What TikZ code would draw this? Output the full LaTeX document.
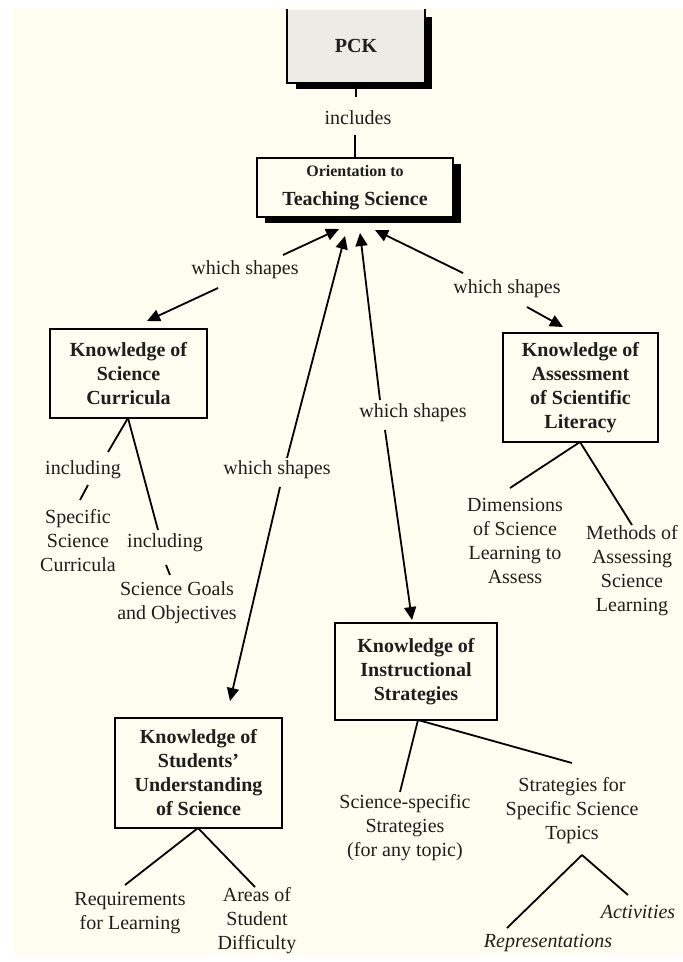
\documentclass[tikz,border=0pt]{standalone}
\usepackage{fontspec}
\setmainfont{Liberation Serif}
\usetikzlibrary{arrows.meta,shadows}
\definecolor{paper}{HTML}{FEFDF0}
\definecolor{boxgray}{HTML}{ECEBE6}
\definecolor{ink}{HTML}{1E1E1E}
\begin{document}
\begin{tikzpicture}[x=1pt,y=-1pt,line width=1.8pt,
  every node/.style={font=\fontsize{20}{24}\selectfont, align=center, inner sep=0pt, text=ink},
  box/.style={draw=black, line width=1.8pt, fill=paper, font=\fontsize{20}{24}\selectfont\bfseries},
  shadowed/.style={drop shadow={shadow xshift=8pt, shadow yshift=-6pt, opacity=1, fill=black}},
  arr/.style={-{Triangle[length=13pt,width=12pt]}},
  lbl/.style={fill=none}]
\useasboundingbox (0,0) rectangle (683,962);
\fill[white] (0,0) rectangle (683,962);
\fill[paper] (13,8) rectangle (683,955);

% PCK box (top edge cut)
\fill[black] (296,17) rectangle (432,89);
\node[fill=boxgray, minimum width=136, minimum height=72, font=\fontsize{20}{24}\selectfont\bfseries] (pck) at (356,46) {PCK};
\draw (pck.north west) -- (pck.south west) -- (pck.south east) -- (pck.north east);

\node[lbl] (inc) at (358,118) {includes};

% Orientation
\node[box, shadowed, minimum width=196, minimum height=59] (orient) at (355,187.5)
  {{\fontsize{16}{18}\selectfont\bfseries Orientation to}\\[5pt]Teaching Science};

% boxes
\node[box, minimum width=157, minimum height=89] (curr) at (128.5,373.5) {Knowledge of\\Science\\Curricula};
\node[box, minimum width=155, minimum height=109] (assess) at (580.5,387.5) {Knowledge of\\Assessment\\of Scientific\\Literacy};
\node[box, minimum width=162, minimum height=97] (instr) at (416,671.5) {Knowledge of\\Instructional\\Strategies};
\node[box, minimum width=167, minimum height=110] (stud) at (198.5,773) {Knowledge of\\Students'\\Understanding\\of Science};

% labels
\node[lbl] (ws1) at (245,270) {which shapes};
\node[lbl] (ws2) at (277,470) {which shapes};
\node[lbl] (ws3) at (413,413) {which shapes};
\node[lbl] (ws4) at (507,289) {which shapes};
\node[lbl] (incl1) at (83,470) {including};
\node[lbl] (incl2) at (165,543) {including};
\node[lbl] (spec) at (78,541) {Specific\\Science\\Curricula};
\node[lbl] (goals) at (177,603) {Science Goals\\and Objectives};
\node[lbl] (dim) at (515,541) {Dimensions\\of Science\\Learning to\\Assess};
\node[lbl] (meth) at (632,571) {Methods of\\Assessing\\Science\\Learning};
\node[lbl] (req) at (130,913) {Requirements\\for Learning};
\node[lbl] (areas) at (257,921) {Areas of\\Student\\Difficulty};
\node[lbl] (ssp) at (405,828) {Science-specific\\Strategies\\(for any topic)};
\node[lbl] (sst) at (572,811) {Strategies for\\Specific Science\\Topics};
\node[lbl, font=\fontsize{20}{24}\selectfont\itshape] (act) at (638,912) {Activities};
\node[lbl, font=\fontsize{20}{24}\selectfont\itshape] (rep) at (548,943) {Representations};

% named end points
\coordinate (incA) at (356,97);
\coordinate (incB) at (355,135);
\coordinate (t1) at (339,229);
\coordinate (t2) at (345,236);
\coordinate (t3) at (360,233);
\coordinate (t4) at (375,230);
\coordinate (w1a) at (283,255);
\coordinate (w1b) at (218,288);
\coordinate (c1) at (147,321);
\coordinate (w2a) at (287,458);
\coordinate (w2b) at (280,487);
\coordinate (c2) at (230,701);
\coordinate (w3a) at (380,400);
\coordinate (w3b) at (385,430);
\coordinate (c3) at (412,620);
\coordinate (w4a) at (463,273);
\coordinate (w4b) at (527,307);
\coordinate (c4) at (563,327);

\coordinate (cu0) at (128,418);
\coordinate (i1a) at (108,452);
\coordinate (i1b) at (88,485);
\coordinate (sp0) at (80,500);
\coordinate (i2a) at (158,530);
\coordinate (i2b) at (166,565);
\coordinate (go0) at (170,575);
\coordinate (as0) at (580,442);
\coordinate (dm0) at (510,488);
\coordinate (me0) at (632,525);
\coordinate (st0) at (198,828);
\coordinate (rq0) at (125,885);
\coordinate (ar0) at (255,887);
\coordinate (in0) at (418,720);
\coordinate (ss0) at (400,792);
\coordinate (sq0) at (572,763);
\coordinate (ap) at (582,855);
\coordinate (rp0) at (507,928);
\coordinate (ac0) at (628,895);

% connectors
\draw (pck.south) -- (incA);
\draw (incB) -- (orient.north);

\draw[arr] (w1a) -- (t1);
\draw[arr] (w1b) -- (c1);
\draw[arr] (w2a) -- (t2);
\draw[arr] (w2b) -- (c2);
\draw[arr] (w3a) -- (t3);
\draw[arr] (w3b) -- (c3);
\draw[arr] (w4a) -- (t4);
\draw[arr] (w4b) -- (c4);

\draw (cu0) -- (i1a);
\draw (i1b) -- (sp0);
\draw (cu0) -- (i2a);
\draw (i2b) -- (go0);
\draw (as0) -- (dm0);
\draw (as0) -- (me0);
\draw (st0) -- (rq0);
\draw (st0) -- (ar0);
\draw (in0) -- (ss0);
\draw (in0) -- (sq0);
\draw (ap) -- (rp0);
\draw (ap) -- (ac0);
\end{tikzpicture}
\end{document}
